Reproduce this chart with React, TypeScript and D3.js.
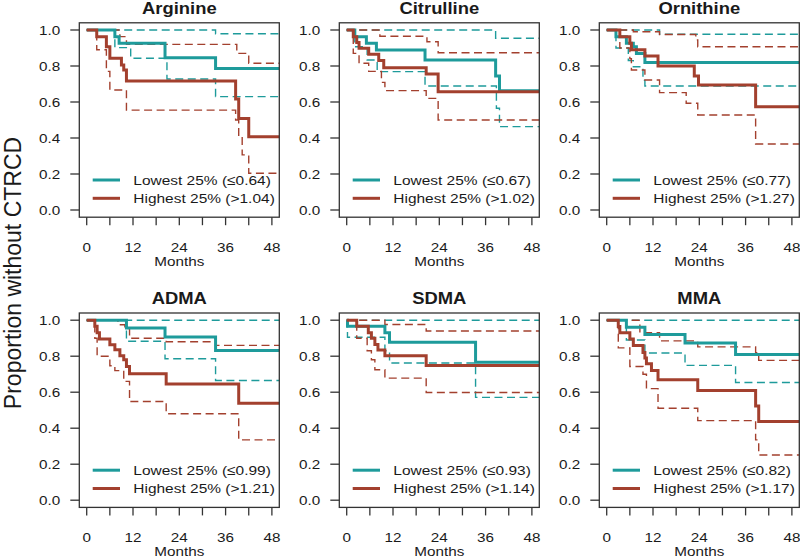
import React from "react";
import * as d3 from "d3";

type Step = [number, number][];

// Panel titles and quartile cut-offs
const panelNames = ["Arginine", "Citrulline", "Ornithine", "ADMA", "SDMA", "MMA"];
const lowCut = ["0.64", "0.67", "0.77", "0.99", "0.93", "0.82"];
const highCut = ["1.04", "1.02", "1.27", "1.21", "1.14", "1.17"];

// Month ticks
const monthTicks = [0, 6, 12, 18, 24, 30, 36, 42, 48];
const monthLabels = [0, 12, 24, 36, 48];
const propTicks = [0, 0.2, 0.4, 0.6, 0.8, 1.0];

// Kaplan-Meier estimates: [month, survival from that month onward]
const lowEst: Step[] = [
  [[0, 1], [7.3, 0.963], [8.4, 0.926], [20.3, 0.846], [33.4, 0.786]],
  [[0, 1], [2.1, 0.963], [5.1, 0.926], [7.7, 0.889], [20.3, 0.833], [38.6, 0.744], [39.6, 0.663]],
  [[0, 1], [2.4, 0.963], [5.1, 0.926], [6.9, 0.907], [7.7, 0.87], [9.9, 0.82]],
  [[0, 1], [10.3, 0.957], [20.3, 0.907], [33.4, 0.831]],
  [[0, 1], [0.2, 0.967], [9.9, 0.93], [11.1, 0.877], [33.4, 0.766]],
  [[0, 1], [5.1, 0.961], [9.9, 0.92], [20.3, 0.874], [33.4, 0.809]],
];
const lowUpper: Step[] = [
  [[0, 1], [33.4, 0.979]],
  [[0, 1], [38.6, 0.954]],
  [[0, 1], [13.7, 0.976]],
  [[0, 1]],
  [[0, 1]],
  [[0, 1]],
];
const lowLower: Step[] = [
  [[0, 1], [7.3, 0.902], [11.4, 0.843], [20.8, 0.728], [33.4, 0.63]],
  [[0, 1], [2.1, 0.907], [5.3, 0.833], [7.9, 0.769], [20.3, 0.689], [38.8, 0.565], [39.6, 0.463]],
  [[0, 1], [2.4, 0.9], [5.6, 0.83], [6.9, 0.796], [9.4, 0.72], [9.9, 0.689]],
  [[0, 1], [10.3, 0.883], [20.3, 0.786], [33.4, 0.665]],
  [[0, 1], [0.2, 0.905], [9.9, 0.83], [11.1, 0.762], [33.4, 0.571]],
  [[0, 1], [5.1, 0.89], [9.9, 0.818], [20.3, 0.749], [33.4, 0.654]],
];
const highEst: Step[] = [
  [[0, 1], [2.6, 0.963], [5.1, 0.907], [6, 0.843], [9, 0.806], [9.6, 0.778], [10.3, 0.717], [38.6, 0.617], [39.4, 0.509], [42, 0.407]],
  [[0, 1], [1.7, 0.963], [2.6, 0.93], [3.2, 0.898], [5.7, 0.865], [8.3, 0.83], [9.6, 0.79], [20.6, 0.756], [23.7, 0.657]],
  [[0, 1], [3.4, 0.963], [6, 0.926], [6.4, 0.89], [9.9, 0.855], [13.3, 0.8], [22.7, 0.744], [23.8, 0.694], [38.6, 0.574]],
  [[0, 1], [2.1, 0.967], [2.7, 0.93], [3.3, 0.896], [6, 0.864], [7.3, 0.836], [8.6, 0.803], [9.6, 0.78], [10.3, 0.743], [11.1, 0.703], [20.6, 0.645], [39.4, 0.539]],
  [[0, 1], [2.6, 0.967], [5.6, 0.93], [6.4, 0.9], [7.3, 0.865], [8.1, 0.835], [9.9, 0.803], [20.6, 0.749]],
  [[0, 1], [3, 0.965], [3.4, 0.93], [6, 0.895], [6.9, 0.859], [9.4, 0.82], [9.9, 0.79], [10.3, 0.758], [11.6, 0.721], [13.3, 0.669], [23.6, 0.61], [38.6, 0.524], [39.4, 0.437]],
];
const highUpper: Step[] = [
  [[0, 1], [8.6, 0.963], [10.3, 0.92], [38.9, 0.87], [42, 0.815]],
  [[0, 1], [8.6, 0.965], [20.8, 0.935], [23.7, 0.874]],
  [[0, 1], [6.9, 0.99], [13.7, 0.975], [23.1, 0.945], [23.6, 0.907]],
  [[0, 1], [8.1, 0.975], [9.9, 0.955], [11.1, 0.9], [20.6, 0.88], [33.4, 0.86]],
  [[0, 1], [9.9, 0.976], [20.6, 0.94]],
  [[0, 1], [8.6, 0.93], [13.7, 0.885], [23.6, 0.852], [38.6, 0.82], [39.4, 0.777]],
];
const highLower: Step[] = [
  [[0, 1], [2.6, 0.89], [5.1, 0.77], [6, 0.667], [10.3, 0.555], [38.6, 0.5], [39.4, 0.41], [40.3, 0.306], [42, 0.204]],
  [[0, 1], [1.7, 0.87], [3.2, 0.815], [5.7, 0.77], [9, 0.709], [9.9, 0.663], [20.6, 0.62], [23.7, 0.5]],
  [[0, 1], [3.4, 0.9], [6, 0.84], [6.4, 0.778], [9.9, 0.722], [13.7, 0.652], [20.6, 0.593], [23.6, 0.528], [38.6, 0.367]],
  [[0, 1], [2.1, 0.9], [2.7, 0.8], [6, 0.747], [7.3, 0.72], [9.6, 0.66], [11.1, 0.548], [20.6, 0.48], [39.4, 0.335]],
  [[0, 1], [2.6, 0.9], [5.3, 0.83], [6.4, 0.78], [7.3, 0.725], [9.9, 0.678], [20.6, 0.598]],
  [[0, 1], [3, 0.846], [6, 0.743], [9.4, 0.7], [10.3, 0.62], [13.3, 0.511], [23.6, 0.442], [38.6, 0.335], [39.4, 0.251]],
];

const TEAL = "#1e9b9b";
const RED = "#a3402e";
const FONT = "'Liberation Sans', Arial, Helvetica, sans-serif";
const SX = 1.13;

const colLeft = [79.3, 339.3, 599.3];
const rowTop = [22.8, 313.0];
const boxW = 200;
const boxH = 194.4;

const x = d3.scaleLinear().domain([-1.92, 49.92]).range([0, boxW]);
const y = d3.scaleLinear().domain([-0.04, 1.04]).range([boxH, 0]);

const stepLine = d3
  .line<[number, number]>()
  .x((d) => x(d[0]))
  .y((d) => y(d[1]))
  .curve(d3.curveStepAfter);

function pathFor(s: Step): string {
  const pts: [number, number][] = [...s, [56, s[s.length - 1][1]]];
  return stepLine(pts) || "";
}

function T(props: {
  x: number;
  y: number;
  children: React.ReactNode;
  size: number;
  anchor?: string;
  bold?: boolean;
  dy?: string;
  rotate?: number;
  sx?: number;
}) {
  const { x: tx, y: ty, children, size, anchor = "start", bold, dy, rotate, sx = SX } = props;
  return (
    <g transform={`translate(${tx},${ty}) scale(${sx},1)${rotate ? ` rotate(${rotate})` : ""}`}>
      <text
        x={0}
        y={0}
        dy={dy}
        fontSize={size}
        fontFamily={FONT}
        fontWeight={bold ? "bold" : "normal"}
        textAnchor={anchor as any}
        fill="#1a1a1a"
      >
        {children}
      </text>
    </g>
  );
}

function Panel({ i }: { i: number }) {
  const left = colLeft[i % 3];
  const top = rowTop[Math.floor(i / 3)];
  const clipId = `clip${i}`;
  return (
    <g transform={`translate(${left},${top})`}>
      <defs>
        <clipPath id={clipId}>
          <rect x={0} y={0} width={boxW} height={boxH} />
        </clipPath>
      </defs>
      <T x={boxW / 2} y={-9} size={16.3} anchor="middle" bold>
        {panelNames[i]}
      </T>
      <g clipPath={`url(#${clipId})`} fill="none">
        <path d={pathFor(lowUpper[i])} stroke={TEAL} strokeWidth={1.4} strokeDasharray="8 4.5" />
        <path d={pathFor(lowLower[i])} stroke={TEAL} strokeWidth={1.4} strokeDasharray="8 4.5" />
        <path d={pathFor(highUpper[i])} stroke={RED} strokeWidth={1.4} strokeDasharray="8 4.5" />
        <path d={pathFor(highLower[i])} stroke={RED} strokeWidth={1.4} strokeDasharray="8 4.5" />
        <path d={pathFor(lowEst[i])} stroke={TEAL} strokeWidth={3} />
        <path d={pathFor(highEst[i])} stroke={RED} strokeWidth={3} />
      </g>
      <rect x={0} y={0} width={boxW} height={boxH} fill="none" stroke="#333" strokeWidth={1.3} />
      {propTicks.map((v) => (
        <g key={`y${v}`}>
          <line x1={-9} x2={0} y1={y(v)} y2={y(v)} stroke="#333" strokeWidth={1.3} />
          <T x={-19} y={y(v)} size={13.5} anchor="end" dy="0.36em">
            {v.toFixed(1)}
          </T>
        </g>
      ))}
      {monthTicks.map((m) => (
        <line key={`x${m}`} x1={x(m)} x2={x(m)} y1={boxH} y2={boxH + 8} stroke="#333" strokeWidth={1.3} />
      ))}
      {monthLabels.map((m) => (
        <T key={`xl${m}`} x={x(m)} y={boxH + 34.5} size={13.5} anchor="middle">
          {m}
        </T>
      ))}
      <T x={x(24)} y={boxH + 49} size={13.5} anchor="middle">
        Months
      </T>
      <line x1={13.4} x2={40.7} y1={157.2} y2={157.2} stroke={TEAL} strokeWidth={3} />
      <line x1={13.4} x2={40.7} y1={175.5} y2={175.5} stroke={RED} strokeWidth={3} />
      <T x={54} y={157.2} size={13.7} dy="0.36em">
        {`Lowest 25% (≤${lowCut[i]})`}
      </T>
      <T x={54} y={175.5} size={13.7} dy="0.36em">
        {`Highest 25% (>${highCut[i]})`}
      </T>
    </g>
  );
}

export default function App() {
  return (
    <svg
      width={800}
      height={560}
      viewBox="0 0 800 560"
      style={{ position: "absolute", left: 0, top: 0, background: "#fff" }}
    >
      <rect width={800} height={560} fill="#fff" />
      <T x={21} y={273} size={23} anchor="middle" rotate={-90} sx={1}>
        Proportion without CTRCD
      </T>
      {panelNames.map((_, i) => (
        <Panel key={i} i={i} />
      ))}
    </svg>
  );
}
